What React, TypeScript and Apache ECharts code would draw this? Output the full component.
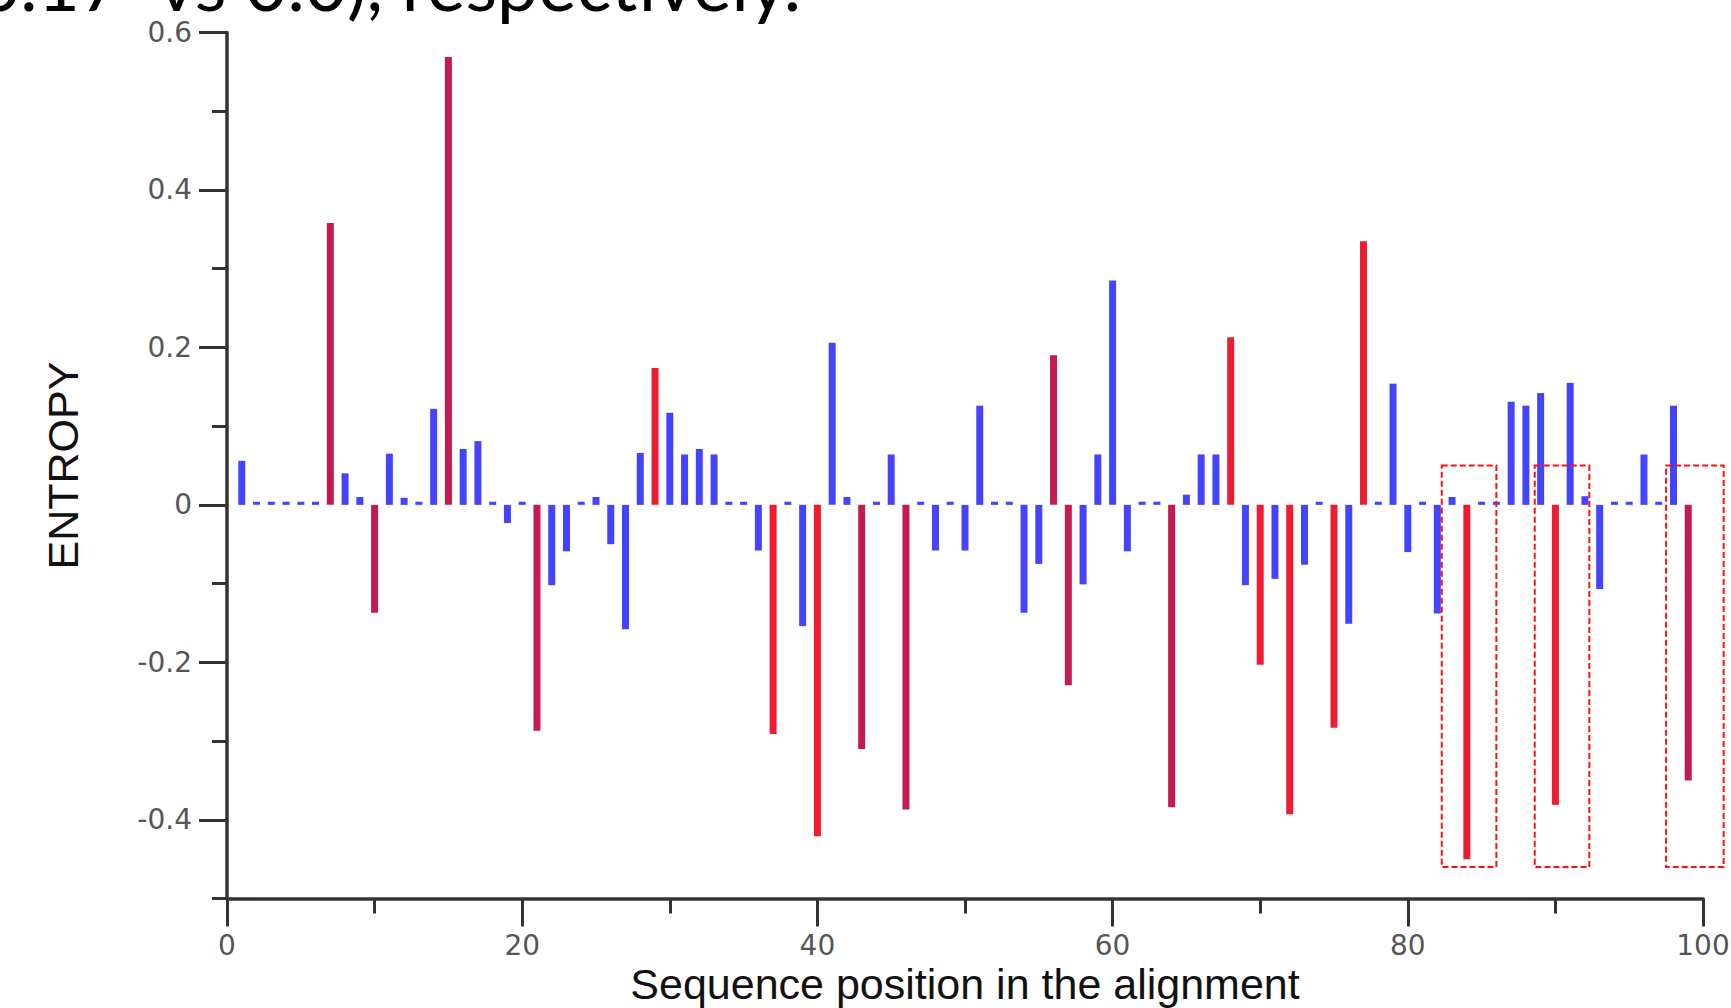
import React, { useEffect, useRef } from 'react';
import * as echarts from 'echarts';

// Entropy per sequence position 1..99
const entropy: number[] = [
  0.056, 0.004, 0.004, 0.004, 0.004, 0.004, 0.358, 0.040, 0.010, -0.137,
  0.065, 0.009, 0.004, 0.122, 0.569, 0.071, 0.081, 0.004, -0.023, 0.004,
  -0.287, -0.102, -0.059, 0.004, 0.010, -0.050, -0.158, 0.066, 0.174, 0.117,
  0.064, 0.071, 0.064, 0.004, 0.004, -0.058, -0.291, 0.004, -0.154, -0.421,
  0.206, 0.010, -0.310, 0.004, 0.064, -0.387, 0.004, -0.058, 0.004, -0.058,
  0.126, 0.004, 0.004, -0.137, -0.075, 0.190, -0.229, -0.101, 0.064, 0.285,
  -0.059, 0.004, 0.004, -0.384, 0.013, 0.064, 0.064, 0.213, -0.102, -0.203,
  -0.094, -0.393, -0.076, 0.004, -0.283, -0.151, 0.335, 0.004, 0.154, -0.060,
  0.004, -0.138, 0.010, -0.450, 0.004, 0.004, 0.131, 0.126, 0.142, -0.381,
  0.155, 0.011, -0.107, 0.004, 0.004, 0.064, 0.004, 0.126, -0.350,
];
const positions: number[] = entropy.map((_, i) => i + 1);

// Positions drawn in red (two shades in the original)
const crimsonPositions: number[] = [7, 10, 15, 21, 43, 46, 56, 57, 64, 99];
const redPositions: number[] = [29, 37, 40, 68, 70, 72, 75, 77, 84, 90];

// Y tick labels
const yLabelValues: number[] = [-0.4, -0.2, 0, 0.2, 0.4, 0.6];

// Highlighted regions: [xFrom, xTo, yTop, yBottom]
const highlightBoxes: number[][] = [
  [82.3, 86.0, 0.05, -0.46],
  [88.6, 92.3, 0.05, -0.46],
  [97.5, 101.4, 0.05, -0.46],
];

const xTitle = 'Sequence position in the alignment';
const yTitle = 'ENTROPY';
const topText = '0.17  vs 0.0), respectively.';

export default function App() {
  const ref = useRef<HTMLDivElement>(null);

  useEffect(() => {
    if (!ref.current) return;
    const chart = echarts.init(ref.current, null, { renderer: 'svg' });
    const axisColor = '#333333';
    const labelFont = 'DejaVu Sans';
    const titleFont = 'Liberation Sans';
    const crimson = new Set(crimsonPositions);
    const red = new Set(redPositions);

    chart.setOption({
      animation: false,
      backgroundColor: '#ffffff',
      grid: {
        left: 227,
        right: 28,
        top: 32.5,
        bottom: 109.5,
        containLabel: false,
        outerBoundsMode: 'none',
      },
      graphic: [
        {
          type: 'text',
          x: -22,
          y: -17,
          silent: true,
          style: {
            text: topText,
            fontFamily: 'Lato',
            fontSize: 73,
            fill: '#000000',
            align: 'left',
            verticalAlign: 'middle',
          },
        },
      ],
      xAxis: [
        {
          type: 'value',
          min: 0,
          max: 100,
          interval: 10,
          position: 'bottom',
          axisLine: { show: true, onZero: false, lineStyle: { color: axisColor, width: 3.5 } },
          axisTick: { show: true, length: 15, lineStyle: { color: axisColor, width: 3 } },
          axisLabel: { show: false },
          splitLine: { show: false },
          name: xTitle,
          nameLocation: 'middle',
          nameGap: 64,
          nameTextStyle: { fontFamily: titleFont, fontSize: 43, color: '#111111' },
        },
        {
          type: 'value',
          min: 0,
          max: 100,
          interval: 20,
          position: 'bottom',
          axisLine: { show: false, onZero: false },
          axisTick: { show: true, length: 28, lineStyle: { color: axisColor, width: 3 } },
          axisLabel: { show: true, fontFamily: labelFont, fontSize: 28, color: '#555555', margin: 33 },
          splitLine: { show: false },
        },
      ],
      yAxis: [
        {
          type: 'value',
          min: -0.5,
          max: 0.6,
          interval: 0.1,
          position: 'left',
          axisLine: { show: true, onZero: false, lineStyle: { color: axisColor, width: 3.5 } },
          axisTick: { show: true, length: 15, lineStyle: { color: axisColor, width: 3 } },
          axisLabel: { show: false },
          splitLine: { show: false },
          name: yTitle,
          nameLocation: 'middle',
          nameRotate: 90,
          nameGap: 143,
          nameTextStyle: { fontFamily: titleFont, fontSize: 43, color: '#111111' },
        },
        {
          type: 'value',
          min: -0.5,
          max: 0.6,
          position: 'left',
          axisLine: { show: false, onZero: false },
          axisTick: {
            show: true,
            length: 28,
            customValues: yLabelValues,
            lineStyle: { color: axisColor, width: 3 },
          },
          axisLabel: {
            show: true,
            customValues: yLabelValues,
            fontFamily: labelFont,
            fontSize: 28,
            color: '#555555',
            margin: 35,
            formatter: (v: number) => (Math.abs(v) < 1e-9 ? '0' : v.toFixed(1)),
          },
          splitLine: { show: false },
        },
      ],
      series: [
        {
          type: 'bar',
          xAxisIndex: 0,
          yAxisIndex: 0,
          barWidth: 7,
          data: positions.map((p, i) => [p, entropy[i]]),
          itemStyle: {
            color: (params: any) => {
              const pos = params.value[0];
              if (crimson.has(pos)) return '#c41a52';
              if (red.has(pos)) return '#ee1c30';
              return '#4444ff';
            },
          },
        },
        {
          type: 'custom',
          xAxisIndex: 0,
          yAxisIndex: 0,
          clip: false,
          z: 5,
          silent: true,
          data: highlightBoxes,
          encode: { x: [0, 1], y: [2, 3] },
          renderItem: (params: any, api: any) => {
            const a = api.coord([api.value(0), api.value(2)]);
            const b = api.coord([api.value(1), api.value(3)]);
            return {
              type: 'rect',
              shape: { x: a[0], y: a[1], width: b[0] - a[0], height: b[1] - a[1] },
              style: { fill: 'none', stroke: '#ff1010', lineWidth: 2, lineDash: [6, 3] },
            };
          },
        },
      ],
    });

    return () => {
      chart.dispose();
    };
  }, []);

  return (
    <div
      ref={ref}
      style={{ position: 'absolute', left: 0, top: 0, width: 1731, height: 1008, background: '#fff' }}
    />
  );
}
